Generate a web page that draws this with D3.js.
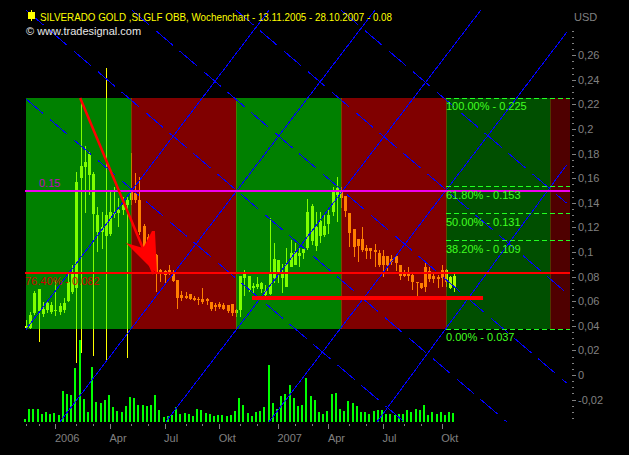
<!DOCTYPE html>
<html><head><meta charset="utf-8">
<style>html,body{margin:0;padding:0;background:#000}svg{display:block}text{font-family:"Liberation Sans",Arial,sans-serif;font-size:11px}</style>
<script src="https://cdn.jsdelivr.net/npm/d3@7/dist/d3.min.js"></script>
</head><body><div id="c"></div>
<script>
const highs=[.0447,.0512,.0683,.0699,.0593,.0610,.0593,.0772,.0585,.0626,.0829,.0894,.1650,.2236,.1862,.1813,.1650,.1366,.1325,.2496,.1496,.1528,.1439,.1447,.1463,.1805,.1642,.1610,.1228,.1146,.1098,.0984,.0862,.0854,.0894,.0854,.0772,.0683,.0675,.0659,.0642,.0634,.0707,.0626,.0593,.0585,.0593,.0585,.0569,.0577,.0537,.0805,.0854,.0805,.0748,.0797,.0756,.0732,.1276,.1073,.0935,.0902,.1033,.1098,.1073,.1033,.1024,.1431,.1390,.1325,.1325,.1301,.1358,.1528,.1610,.1528,.1455,.1317,.1187,.1106,.1203,.1057,.1033,.1065,.1016,.1016,.0968,.0976,.0968,.0894,.0854,.0878,.0837,.0756,.0748,.0911,.0878,.0829,.0813,.0894,.0862,.0805,.0829];
const bodyTops=[.0398,.0488,.0667,.0699,.0537,.0585,.0569,.0528,.0561,.0585,.0756,.0829,.1569,.1699,.1732,.1797,.1634,.1301,.1203,.1301,.1325,.1317,.1341,.1382,.1423,.1488,.1480,.1423,.1211,.1122,.1073,.0976,.0854,.0846,.0854,.0821,.0772,.0650,.0642,.0659,.0626,.0618,.0618,.0618,.0593,.0569,.0577,.0569,.0569,.0577,.0528,.0805,.0821,.0805,.0724,.0740,.0748,.0683,.0821,.0943,.0935,.0821,.0902,.0992,.1000,.0992,.1024,.1325,.1374,.1203,.1252,.1211,.1301,.1488,.1520,.1504,.1455,.1317,.1187,.1106,.1106,.1033,.1033,.1016,.0992,.0968,.0968,.0943,.0968,.0894,.0821,.0829,.0813,.0756,.0748,.0878,.0846,.0805,.0797,.0854,.0854,.0797,.0805];
const bodyBottoms=[.0382,.0382,.0504,.0520,.0496,.0528,.0512,.0520,.0512,.0528,.0602,.0675,.0707,.1602,.1691,.1626,.1309,.1163,.1163,.1130,.1146,.1309,.1317,.1341,.1382,.1423,.1423,.1163,.1041,.1057,.0976,.0821,.0837,.0813,.0837,.0764,.0626,.0626,.0626,.0618,.0610,.0610,.0593,.0602,.0537,.0553,.0553,.0537,.0520,.0504,.0504,.0528,.0789,.0691,.0707,.0715,.0699,.0650,.0659,.0789,.0821,.0789,.0715,.0878,.0894,.0968,.0992,.1033,.1089,.1049,.1130,.1138,.1228,.1325,.1463,.1439,.1333,.1154,.1041,.1049,.1016,.1008,.1008,.1000,.0894,.0894,.0894,.0919,.0911,.0805,.0805,.0805,.0756,.0748,.0707,.0715,.0780,.0780,.0780,.0789,.0756,.0707,.0715];
const lows=[.0374,.0374,.0488,.0268,.0472,.0504,.0496,.0480,.0488,.0504,.0593,.0659,.0098,.0179,.1317,.1463,.0154,.1000,.1024,.0122,.1130,.1276,.1203,.1301,.0138,.1382,.1398,.1138,.0976,.1033,.0951,.0675,.0756,.0748,.0813,.0756,.0537,.0602,.0618,.0610,.0602,.0569,.0577,.0569,.0520,.0520,.0537,.0528,.0504,.0480,.0472,.0472,.0642,.0675,.0667,.0699,.0667,.0642,.0650,.0748,.0748,.0667,.0715,.0878,.0894,.0878,.0943,.1016,.1057,.1008,.1073,.1122,.1146,.1293,.1244,.1358,.1285,.1041,.0959,.0919,.1000,.0943,.0943,.0878,.0878,.0797,.0846,.0894,.0846,.0772,.0797,.0764,.0691,.0642,.0699,.0675,.0756,.0748,.0707,.0715,.0715,.0699,.0675];
const volumes=[3,13,13,13,8,10,8,9,7,31,28,27,54,82,23,10,55,20,19,22,27,15,11,10,16,25,24,17,17,16,17,27,12,5,6,7,15,8,9,8,6,13,12,9,8,6,7,7,6,7,11,24,17,9,6,10,11,15,57,19,13,26,28,37,24,16,17,44,26,22,10,8,11,28,29,13,11,21,19,16,10,10,8,11,12,12,8,8,7,8,8,12,10,13,12,17,7,10,8,10,7,10,9];
const zoneEdges=[0,25,50,75,100,124.7,129.6];
const zoneColors=["rgba(0,255,0,.5)","rgba(255,0,0,.5)","rgba(0,255,0,.5)","rgba(255,0,0,.5)","rgba(0,255,0,.31)","rgba(255,0,0,.31)"];
const fibLevels=[.225,.153,.131,.109,.037];
const fibLabels=["100.00% - 0.225","61.80% - 0.153","50.00% - 0.131","38.20% - 0.109","0.00% - 0.037"];
const risingStart=[[0,.037],[8.1,-.038],[33.3,-.038],[57.9,-.038],[83.6,-.038]];
const risingEnd=[[57.9,.2967],[83.1,.2967],[108.3,.2967],[128.8,.2788],[128.7,.1707]];
const fallingStart=[[0,.2244],[0,.2967],[25.2,.2967],[50,.2967],[75,.2967]];
const fallingEnd=[[90,-.038],[114.5,-.0382],[128.7,-.0065],[128.7,.0667],[128.7,.1398]];
const arrowWeeks=[12.9,30.4],arrowPrices=[.2252,.0821];
const headWeeks=[23.8,27.9,30,30.7,31.2],headPrices=[.1073,.1033,.1171,.1171,.0821];
const supportWeeks=[53.8,108.9],supportPrice=.063,pivotPrice=.15,fibLine=.0832;
const majorWeeks=[7,20,33,46,60,72,85,99],majorLabels=["2006","Apr","Jul","Okt","2007","Apr","Jul","Okt"];
const minorWeeks=[0,3,12,16,25,29,38,42,51,55,64,68,77,81,90,94];
const priceTicks=[-.02,0,.02,.04,.06,.08,.1,.12,.14,.16,.18,.2,.22,.24,.26];
const priceMinor=d3.range(-7,57).map(k=>k*.005);

const svg=d3.select("#c").append("svg").attr("width",629).attr("height",455);
const x=d3.scaleLinear().domain([0,130]).range([26,572]);
const y=d3.scaleLinear().domain([0,.26]).range([375,55.2]);
const v=d3.scaleLinear().domain([0,82]).range([422,340]);
const n=highs.length,idx=d3.range(n);
const crisp=s=>s.attr("shape-rendering","crispEdges");

// candles
crisp(svg.append("g").selectAll("line").data(idx).join("line")
 .attr("x1",i=>Math.round(x(i))+.5).attr("x2",i=>Math.round(x(i))+.5)
 .attr("y1",i=>y(highs[i])).attr("y2",i=>y(lows[i])).attr("stroke","#ffff00"));
crisp(svg.append("g").selectAll("rect").data(idx).join("rect")
 .attr("x",i=>Math.round(x(i))-1).attr("width",3)
 .attr("y",i=>y(bodyTops[i])).attr("height",i=>Math.max(1,y(bodyBottoms[i])-y(bodyTops[i]))).attr("fill","#ffff00"));
// zones
crisp(svg.append("g").selectAll("rect").data(zoneColors).join("rect")
 .attr("x",(d,i)=>x(zoneEdges[i])).attr("width",(d,i)=>x(zoneEdges[i+1])-x(zoneEdges[i])+(i<5?1:0))
 .attr("y",y(.225)).attr("height",y(.037)-y(.225)).attr("fill",d=>d));
// volume
crisp(svg.append("g").selectAll("rect").data(idx).join("rect")
 .attr("x",i=>Math.round(x(i))-2).attr("width",2)
 .attr("y",i=>v(volumes[i])).attr("height",i=>v(0)-v(volumes[i])).attr("fill","#00ff00"));
// diagonals
const pt=p=>[x(p[0]),y(p[1])];
const diag=svg.append("g").attr("stroke","#0000ff").attr("fill","none");
risingStart.forEach((s,i)=>crisp(diag.append("path").attr("d",d3.line()([pt(s),pt(risingEnd[i])]))));
fallingStart.forEach((s,i)=>crisp(diag.append("path").attr("d",d3.line()([pt(s),pt(fallingEnd[i])])).attr("stroke-dasharray","22.7,8.8")));
// horizontal levels
const hl=(p,c,w)=>crisp(svg.append("line").attr("x1",25).attr("x2",570).attr("y1",y(p)).attr("y2",y(p)).attr("stroke",c).attr("stroke-width",w));
hl(pivotPrice,"#f000f0",2);
hl(fibLine,"#ff0000",2);
// fib dashes
crisp(svg.append("g").selectAll("line").data(fibLevels).join("line")
 .attr("x1",x(100)).attr("x2",570).attr("y1",d=>y(d)).attr("y2",d=>y(d))
 .attr("stroke","#22ff22").attr("stroke-dasharray","5,3"));
svg.append("g").selectAll("text").data(fibLevels).join("text")
 .attr("x",x(100)).attr("y",d=>y(d)+12).attr("fill","#40ff20").text((d,i)=>fibLabels[i]);
// drawn objects
crisp(svg.append("line").attr("x1",x(supportWeeks[0])).attr("x2",x(supportWeeks[1]))
 .attr("y1",y(supportPrice)).attr("y2",y(supportPrice)).attr("stroke","#ff0000").attr("stroke-width",4));
svg.append("line").attr("x1",x(arrowWeeks[0])).attr("x2",x(arrowWeeks[1]))
 .attr("y1",y(arrowPrices[0])).attr("y2",y(arrowPrices[1])).attr("stroke","#ff0000").attr("stroke-width",2.5);
svg.append("polygon").attr("points",headWeeks.map((w,i)=>[x(w),y(headPrices[i])].join(",")).join(" ")).attr("fill","#ff0000");
// level labels
svg.append("text").attr("x",39).attr("y",y(pivotPrice)-3.5).attr("fill","#c000c0").text("0.15");
svg.append("text").attr("x",25).attr("y",y(fibLine)+12.5).attr("fill","#d00000").text("76.40% - 0.082");
// axes
const gy=svg.append("g").attr("transform","translate(572,0)");
crisp(gy.append("g").selectAll("line").data(priceMinor).join("line").attr("x1",0).attr("x2",2).attr("y1",d=>Math.round(y(d))+.5).attr("y2",d=>Math.round(y(d))+.5).attr("stroke","#808080"));
const ya=gy.append("g").call(d3.axisRight(y).tickValues(priceTicks).tickSize(4).tickPadding(2).tickFormat(d=>String(+d.toFixed(2)).replace(".",",")));
ya.select(".domain").remove();
ya.attr("font-family",null).attr("font-size",null);
ya.selectAll("line").attr("stroke","#808080").attr("shape-rendering","crispEdges");
ya.selectAll("text").attr("fill","#808080");
const xg=svg.append("g").attr("transform","translate(0,424)");
crisp(xg.append("g").selectAll("line").data(minorWeeks).join("line").attr("x1",d=>Math.round(x(d))+.5).attr("x2",d=>Math.round(x(d))+.5).attr("y1",0).attr("y2",2).attr("stroke","#808080"));
const xa=xg.append("g").call(d3.axisBottom(x).tickValues(majorWeeks).tickSize(5).tickFormat(d=>majorLabels[majorWeeks.indexOf(d)]));
xa.select(".domain").remove();
xa.attr("font-family",null).attr("font-size",null);
xa.selectAll("line").attr("stroke","#808080").attr("shape-rendering","crispEdges");
xa.selectAll("text").attr("fill","#808080").attr("text-anchor","start").attr("dy",null).attr("y",18).attr("x",-1);
svg.append("text").attr("x",574).attr("y",20.5).attr("fill","#808080").text("USD");
// header
crisp(svg.append("line").attr("x1",31.5).attr("x2",31.5).attr("y1",10).attr("y2",21).attr("stroke","#ffff00"));
crisp(svg.append("rect").attr("x",28).attr("y",12).attr("width",7).attr("height",7).attr("fill","#ffff00"));
svg.append("text").attr("x",40).attr("y",21).attr("fill","#ffff00").attr("textLength",352).attr("lengthAdjust","spacingAndGlyphs").text("SILVERADO GOLD ,SLGLF OBB, Wochenchart - 13.11.2005 - 28.10.2007 - 0.08");
svg.append("text").attr("x",26).attr("y",35).attr("fill","#e8e8e8").text("© www.tradesignal.com");
</script></body></html>
